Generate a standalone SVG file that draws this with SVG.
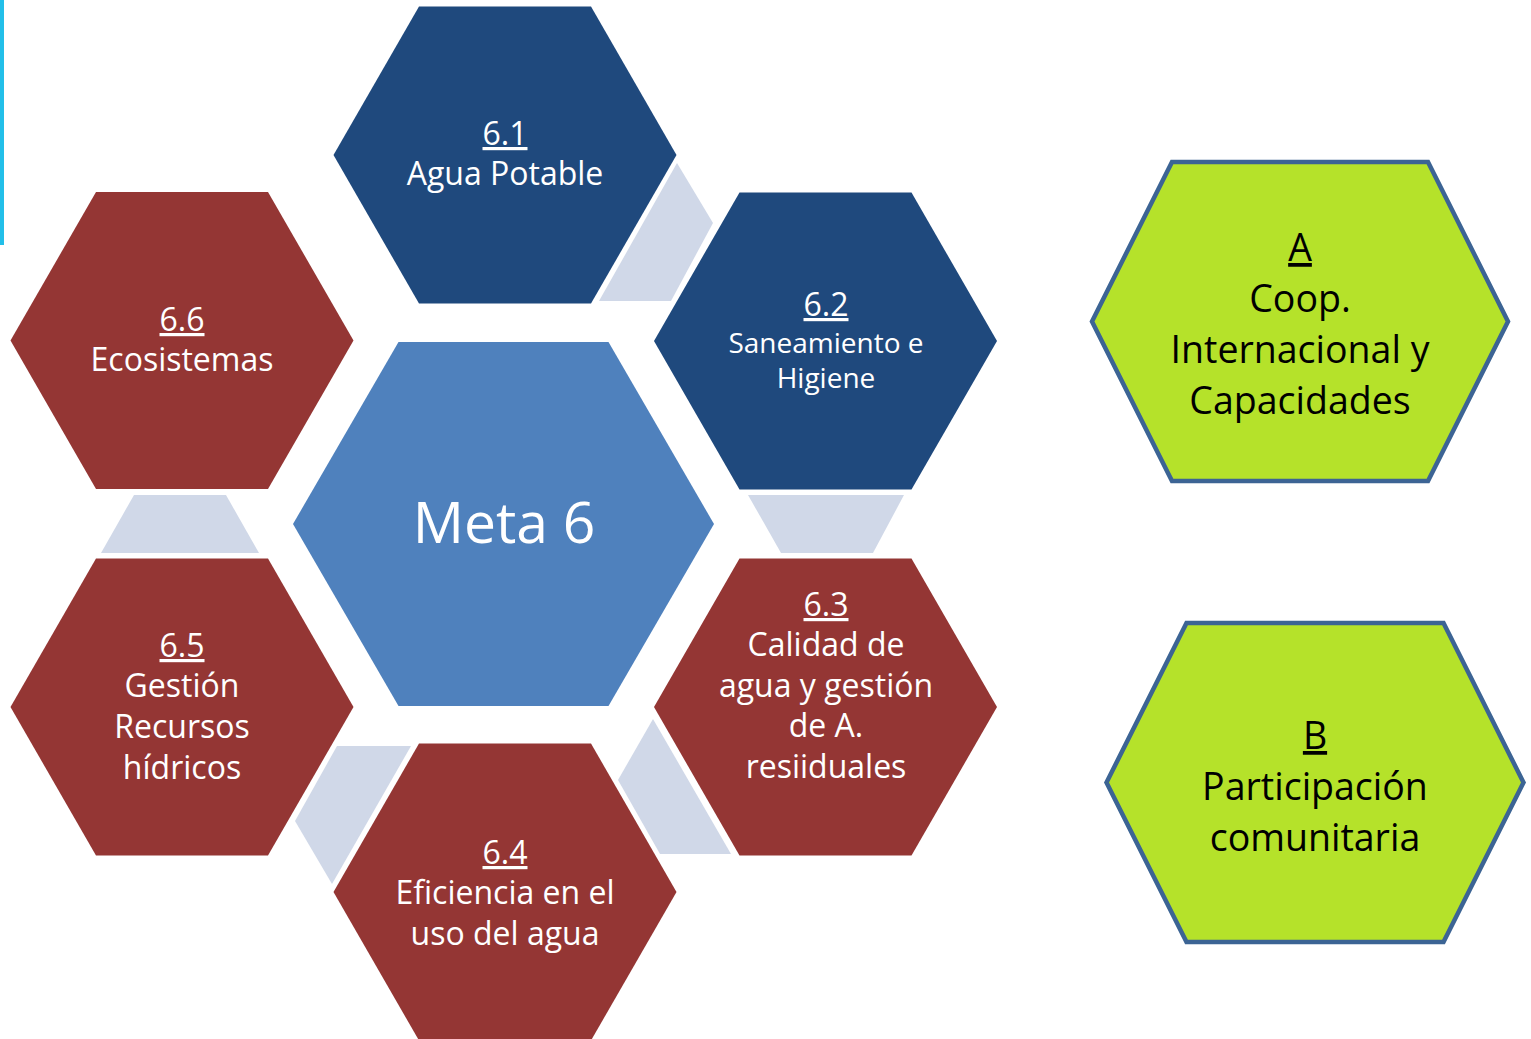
<svg xmlns="http://www.w3.org/2000/svg" width="1531" height="1039" viewBox="0 0 1531 1039">
<style>
.blue{fill:#1F497D}
.red{fill:#943634}
.meta{fill:#4F81BD}
.green{fill:#B5E22A;stroke:#3C6494;stroke-width:4.5;stroke-linejoin:miter}
.conn{fill:#D0D8E8}
text{font-family:"Open Sans","Noto Sans","DejaVu Sans",sans-serif;text-anchor:middle}
.w{fill:#FFFFFF;font-size:32px}
.ws{fill:#FFFFFF;font-size:28px}
.k{fill:#000000;font-size:37.5px}
.u{text-decoration:underline}
</style>
<rect x="0" y="0" width="4" height="245" fill="#22BFE9"/>
<g id="connectors">
<polygon class="conn" points="677,163 713,223 671,301 599,301"/>
<polygon class="conn" points="748,495 904,495 873,553 781,553"/>
<polygon class="conn" points="134,495 226,495 259,553 101,553"/>
<polygon class="conn" points="337,746 411,746 332,884 295,821"/>
<polygon class="conn" points="653,719 618,780 660,854 731,854"/>
</g>
<g id="n61">
<polygon class="blue" points="333.5,155 419,6.5 591,6.5 676.5,155 591,303.5 419,303.5"/>
<text class="w" x="505" y="145"><tspan class="u">6.1</tspan></text>
<text class="w" x="505" y="185">Agua Potable</text>
</g>
<g id="n62">
<polygon class="blue" points="654,341 739.5,192.5 911.5,192.5 997,341 911.5,489.5 739.5,489.5"/>
<text class="w" x="826" y="316"><tspan class="u">6.2</tspan></text>
<text class="ws" x="826" y="353">Saneamiento e</text>
<text class="ws" x="826" y="388">Higiene</text>
</g>
<g id="n66">
<polygon class="red" points="10.5,340.5 96,192 268,192 353.5,340.5 268,489 96,489"/>
<text class="w" x="182" y="331"><tspan class="u">6.6</tspan></text>
<text class="w" x="182" y="371">Ecosistemas</text>
</g>
<g id="meta6">
<polygon class="meta" points="293,524 398.5,342 608.5,342 714,524 608.5,706 398.5,706"/>
<text fill="#FFFFFF" x="504" y="543" style="font-size:57px">Meta 6</text>
</g>
<g id="n65">
<polygon class="red" points="10.5,707 96,558.5 268,558.5 353.5,707 268,855.5 96,855.5"/>
<text class="w" x="182" y="657"><tspan class="u">6.5</tspan></text>
<text class="w" x="182" y="697">Gestión</text>
<text class="w" x="182" y="738">Recursos</text>
<text class="w" x="182" y="779">hídricos</text>
</g>
<g id="n63">
<polygon class="red" points="654,707 739.5,558.5 911.5,558.5 997,707 911.5,855.5 739.5,855.5"/>
<text class="w" x="826" y="616"><tspan class="u">6.3</tspan></text>
<text class="w" x="826" y="656">Calidad de</text>
<text class="w" x="826" y="697">agua y gestión</text>
<text class="w" x="826" y="737">de A.</text>
<text class="w" x="826" y="778">resiiduales</text>
</g>
<g id="n64">
<polygon class="red" points="333.5,892 419,743.5 591,743.5 676.5,892 591,1040.5 419,1040.5"/>
<text class="w" x="505" y="864"><tspan class="u">6.4</tspan></text>
<text class="w" x="505" y="904">Eficiencia en el</text>
<text class="w" x="505" y="945">uso del agua</text>
</g>
<g id="nA">
<polygon class="green" points="1092,321.5 1172,162 1428,162 1508,321.5 1428,481 1172,481"/>
<text class="k" x="1300" y="261"><tspan class="u">A</tspan></text>
<text class="k" x="1300" y="312">Coop.</text>
<text class="k" x="1300" y="363">Internacional y</text>
<text class="k" x="1300" y="414">Capacidades</text>
</g>
<g id="nB">
<polygon class="green" points="1106.5,782.5 1186.5,623 1443.5,623 1523.5,782.5 1443.5,942 1186.5,942"/>
<text class="k" x="1315" y="749"><tspan class="u">B</tspan></text>
<text class="k" x="1315" y="800">Participación</text>
<text class="k" x="1315" y="851">comunitaria</text>
</g>
</svg>
